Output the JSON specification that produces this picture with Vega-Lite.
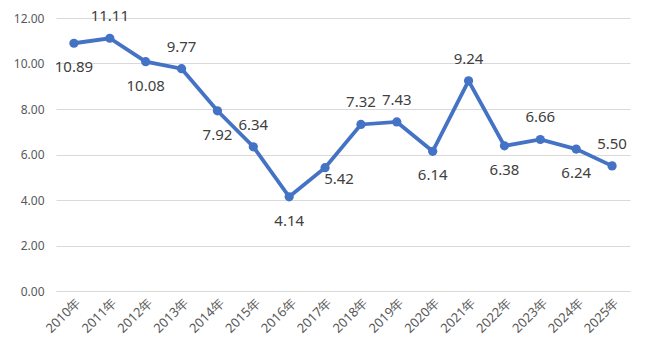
{
  "$schema": "https://vega.github.io/schema/vega-lite/v6.json",
  "width": 574,
  "height": 273,
  "autosize": {"type": "none"},
  "padding": {"left": 56, "top": 18, "right": 19, "bottom": 71},
  "background": "white",
  "config": {
    "view": {"stroke": null},
    "font": "Noto Sans"
  },
  "data": {
    "values": [
      {"year": "2010年", "value": 10.89},
      {"year": "2011年", "value": 11.11},
      {"year": "2012年", "value": 10.08},
      {"year": "2013年", "value": 9.77},
      {"year": "2014年", "value": 7.92},
      {"year": "2015年", "value": 6.34},
      {"year": "2016年", "value": 4.14},
      {"year": "2017年", "value": 5.42},
      {"year": "2018年", "value": 7.32},
      {"year": "2019年", "value": 7.43},
      {"year": "2020年", "value": 6.14},
      {"year": "2021年", "value": 9.24},
      {"year": "2022年", "value": 6.38},
      {"year": "2023年", "value": 6.66},
      {"year": "2024年", "value": 6.24},
      {"year": "2025年", "value": 5.50}
    ]
  },
  "encoding": {
    "x": {
      "field": "year", "type": "ordinal", "sort": null, "title": null,
      "axis": {
        "labelAngle": -45, "labelFontSize": 13, "labelColor": "#595959",
        "ticks": false, "domainColor": "#d9d9d9", "labelPadding": 5
      }
    },
    "y": {
      "field": "value", "type": "quantitative", "title": null,
      "scale": {"domain": [0, 12], "nice": false},
      "axis": {
        "values": [0, 2, 4, 6, 8, 10, 12], "format": ".2f",
        "domain": false, "ticks": false, "gridColor": "#d9d9d9",
        "labelFontSize": 12, "labelColor": "#595959", "labelPadding": 12
      }
    }
  },
  "layer": [
    {"mark": {"type": "line", "color": "#4472C4", "strokeWidth": 3.8}},
    {"mark": {"type": "point", "filled": true, "opacity": 1, "color": "#4472C4", "size": 85}},
    {
      "transform": [{"filter": {"field": "year", "oneOf": ["2011年", "2013年", "2015年", "2018年", "2019年", "2021年", "2023年", "2025年"]}}],
      "mark": {"type": "text", "dy": -22, "fontSize": 15, "color": "#404040"},
      "encoding": {"text": {"field": "value", "type": "quantitative", "format": ".2f"}}
    },
    {
      "transform": [{"filter": {"field": "year", "oneOf": ["2010年", "2012年", "2014年", "2016年", "2020年", "2022年", "2024年"]}}],
      "mark": {"type": "text", "dy": 24, "fontSize": 15, "color": "#404040"},
      "encoding": {"text": {"field": "value", "type": "quantitative", "format": ".2f"}}
    },
    {
      "transform": [{"filter": {"field": "year", "oneOf": ["2017年"]}}],
      "mark": {"type": "text", "dy": 11, "dx": 14, "fontSize": 15, "color": "#404040"},
      "encoding": {"text": {"field": "value", "type": "quantitative", "format": ".2f"}}
    }
  ]
}
